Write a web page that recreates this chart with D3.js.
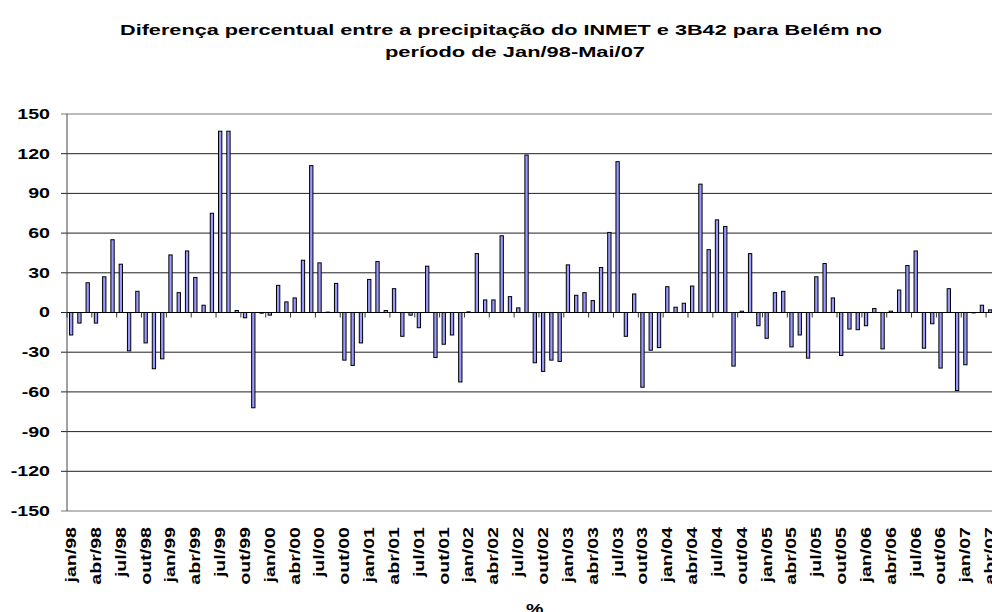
<!DOCTYPE html>
<html>
<head>
<meta charset="utf-8">
<script src="https://cdn.jsdelivr.net/npm/d3@7"></script>
<style>
body { margin: 0; background: #fff; overflow: hidden; }
text { font-family: Arial, "Liberation Sans", sans-serif; font-weight: bold; fill: #000; }
</style>
</head>
<body>
<svg id="chart" width="992" height="612"></svg>
<script>
// categories: jan/98 .. mai/07
var years = ["98", "99", "00", "01", "02", "03", "04", "05", "06", "07"];
var monthNames = ["jan", "fev", "mar", "abr", "mai", "jun", "jul", "ago", "set", "out", "nov", "dez"];
var months = [];
years.forEach(function(y) {
    monthNames.forEach(function(m) { months.push(m + "/" + y); });
});
months = months.slice(0, 113);

// diferenca percentual INMET x 3B42 (%)
var diffPct = [
    -17, -8, 22.5, -8, 27, 55, 36.5, -29, 16, -23, -42.5, -35,        // 1998
    43.5, 15, 46.5, 26.5, 5.5, 75, 137, 137, 1.5, -4, -72, -0.5,      // 1999
    -2, 20.5, 8, 11, 39.5, 111, 37.5, 0.3, 22, -36, -40, -23,         // 2000
    25, 38.5, 1.5, 18, -18, -2, -11.5, 35, -34, -24, -17, -52.5,      // 2001
    0.5, 44.5, 9.5, 9.5, 58, 12, 3.5, 119, -38, -44.5, -36, -37,      // 2002
    36, 13, 15, 9, 34, 60.5, 114, -18, 14, -56.5, -28.5, -26.5,       // 2003
    19.5, 4, 7, 20, 97, 47.5, 70, 65, -40.5, 1, 44.5, -10,            // 2004
    -19.5, 15, 16, -26, -17, -34.5, 27, 37, 11, -32.5, -12.5, -13,    // 2005
    -10, 3, -27.5, 1, 17, 35.5, 46.5, -27, -8.5, -42, 18, -59,        // 2006
    -39.5, -0.3, 5.5, 2, 3                                            // 2007
];

var yTicks = [-150, -120, -90, -60, -30, 0, 30, 60, 90, 120, 150];

var titleLines = [
    "Diferença percentual entre a precipitação do INMET e 3B42 para Belém no",
    "período de Jan/98-Mai/07"
];
var xTitle = "%";

// text in the original is stretched along its baseline
var stretch = 1.4;

var svg = d3.select("#chart");

var plotLeft = 67, plotTop = 114, plotBottom = 511;
var step = 8.28;

var x = d3.scaleBand()
    .domain(months)
    .range([plotLeft, plotLeft + months.length * step])
    .paddingInner(0.6)
    .paddingOuter(0.3);

var y = d3.scaleLinear([-150, 150], [plotBottom, plotTop]);

// title
svg.append("text")
    .attr("x", 120)
    .attr("y", 35)
    .attr("font-size", 15)
    .attr("textLength", 762)
    .attr("lengthAdjust", "spacingAndGlyphs")
    .text(titleLines[0]);

svg.append("text")
    .attr("x", 385)
    .attr("y", 57)
    .attr("font-size", 15)
    .attr("textLength", 260)
    .attr("lengthAdjust", "spacingAndGlyphs")
    .text(titleLines[1]);

// gridlines
svg.append("g")
    .selectAll("line")
    .data(yTicks)
    .enter()
    .append("line")
    .attr("x1", plotLeft - 6)
    .attr("x2", 992)
    .attr("y1", d => y(d))
    .attr("y2", d => y(d))
    .attr("stroke", d => (d == 150 || d == -150) ? "#777" : "#222")
    .attr("stroke-width", 1);

// y axis
svg.append("line")
    .attr("x1", plotLeft).attr("x2", plotLeft)
    .attr("y1", y(150)).attr("y2", y(-150))
    .attr("stroke", "#444");

svg.append("g")
    .selectAll("text")
    .data(yTicks)
    .enter()
    .append("text")
    .attr("transform", d => "translate(50," + y(d) + ") scale(" + stretch + ",1)")
    .attr("dy", "0.35em")
    .attr("text-anchor", "end")
    .attr("font-size", 14)
    .text(d => d);

// bars
svg.append("g")
    .selectAll("rect")
    .data(diffPct)
    .enter()
    .append("rect")
    .attr("x", (d, i) => x(months[i]))
    .attr("y", d => y(Math.max(0, d)))
    .attr("width", x.bandwidth())
    .attr("height", d => Math.abs(y(d) - y(0)))
    .attr("fill", "#9999ff")
    .attr("stroke", "#000")
    .attr("stroke-width", 1);

// zero line and category ticks
svg.append("line")
    .attr("x1", plotLeft).attr("x2", 992)
    .attr("y1", y(0)).attr("y2", y(0))
    .attr("stroke", "#000");

var tickMonths = months.filter((m, i) => i % 3 == 0);

svg.append("g")
    .selectAll("line")
    .data(tickMonths)
    .enter()
    .append("line")
    .attr("x1", d => x(d) - x.step() * 0.3)
    .attr("x2", d => x(d) - x.step() * 0.3)
    .attr("y1", y(0))
    .attr("y2", y(0) + 5)
    .attr("stroke", "#333");

// x labels
svg.append("g")
    .selectAll("text")
    .data(tickMonths)
    .enter()
    .append("text")
    .attr("transform", d => "translate(" + (x(d) + x.bandwidth() / 2) + ",527) rotate(-90) scale(" + stretch + ",1)")
    .attr("dy", "0.35em")
    .attr("text-anchor", "end")
    .attr("font-size", 14)
    .text(d => d);

// axis title
svg.append("text")
    .attr("transform", "translate(" + (plotLeft + months.length * step / 2) + ",614) scale(" + stretch + ",1)")
    .attr("text-anchor", "middle")
    .attr("font-size", 14)
    .text(xTitle);
</script>
</body>
</html>
